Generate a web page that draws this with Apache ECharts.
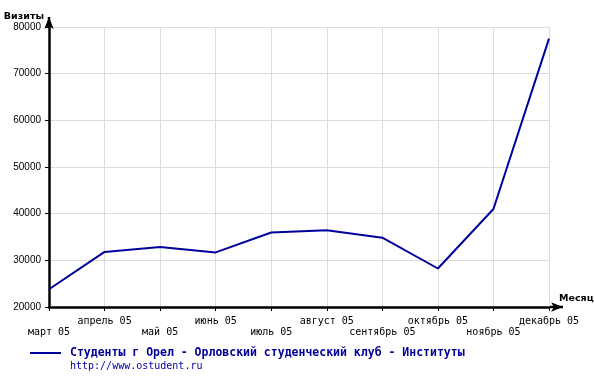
<!DOCTYPE html>
<html>
<head>
<meta charset="utf-8">
<script src="https://cdn.jsdelivr.net/npm/echarts@6/dist/echarts.min.js"></script>
<style>html,body{margin:0;padding:0;background:#fff;}#c{width:594px;height:376px;}</style>
</head>
<body>
<div id="c"></div>
<script>
var categories = ['март 05','апрель 05','май 05','июнь 05','июль 05','август 05','сентябрь 05','октябрь 05','ноябрь 05','декабрь 05'];
var visits = [23800, 31800, 32850, 31700, 35950, 36450, 34850, 28250, 41000, 77500];
var seriesName = 'Студенты г Орел - Орловский студенческий клуб - Институты';
var siteUrl = 'http://www.ostudent.ru';

var chart = echarts.init(document.getElementById('c'), null, {renderer:'canvas'});
var mono = '"DejaVu Sans Mono", monospace';
chart.setOption({
  animation: false,
  backgroundColor: '#fff',
  grid: {left: 49, top: 27, width: 500, height: 280, containLabel: false, outerBoundsMode: 'none'},
  legend: {
    left: 30, top: 347, padding: 0, itemWidth: 31, itemHeight: 2, itemGap: 0,
    icon: 'rect',
    data: [seriesName],
    textStyle: {fontFamily: mono, fontSize: 11.5, fontWeight: 'bold', color: '#000099', padding: [0,0,0,4]}
  },
  xAxis: {
    type: 'category', data: categories, boundaryGap: false,
    name: 'Месяц', nameLocation: 'end', nameGap: 10,
    nameTextStyle: {fontFamily: '"DejaVu Sans", sans-serif', fontWeight: 'bold', fontSize: 9.5, color: '#000', align: 'left', verticalAlign: 'bottom', padding: [0,0,3,0]},
    axisLine: {lineStyle: {color: '#000', width: 2.5}, symbol: ['none','arrow'], symbolSize: [7, 12], symbolOffset: [0, 14]},
    axisTick: {show: true, length: 4, lineStyle: {color: '#000', width: 1}},
    axisLabel: {
      interval: 0, margin: 9, fontFamily: mono, fontSize: 10, color: '#000', lineHeight: 11,
      formatter: function (v, i) { return i % 2 === 1 ? v + '\n ' : ' \n' + v; }
    },
    splitLine: {show: true, lineStyle: {color: '#dcdcdc', width: 1}}
  },
  yAxis: {
    type: 'value', min: 20000, max: 80000, interval: 10000,
    name: 'Визиты', nameLocation: 'end', nameGap: 10,
    nameTextStyle: {fontFamily: '"DejaVu Sans", sans-serif', fontWeight: 'bold', fontSize: 9.5, color: '#000', align: 'right', verticalAlign: 'middle', padding: [0,5,0,0]},
    axisLine: {show: true, lineStyle: {color: '#000', width: 2.5}, symbol: ['none','arrow'], symbolSize: [7, 12], symbolOffset: [0, 10]},
    axisTick: {show: true, length: 4, lineStyle: {color: '#000', width: 1}},
    axisLabel: {margin: 8, fontFamily: '"Liberation Sans", Arial, sans-serif', fontSize: 10, color: '#000',
      formatter: function (v) { return String(v); }},
    splitLine: {show: true, lineStyle: {color: '#dcdcdc', width: 1}}
  },
  series: [{
    name: seriesName, type: 'line', data: visits, symbol: 'none',
    lineStyle: {color: '#00009c', width: 2}, itemStyle: {color: '#00009c'}
  }],
  graphic: [
    {type: 'line', shape: {x1: 49, y1: 27, x2: 49, y2: 17}, style: {stroke: '#000', lineWidth: 2.5}},
    {type: 'line', shape: {x1: 549, y1: 307, x2: 563, y2: 307}, style: {stroke: '#000', lineWidth: 2.5}},
    {type: 'text', left: 70, top: 361, style: {text: siteUrl, font: '10px "DejaVu Sans Mono", monospace', fill: '#000099'}}
  ]
});
</script>
</body>
</html>
